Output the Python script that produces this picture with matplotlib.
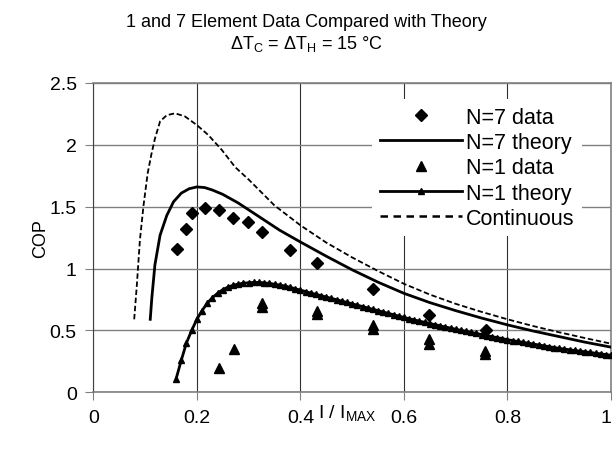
import matplotlib.pyplot as plt
from matplotlib.lines import Line2D

plt.rcParams['font.family'] = ['Liberation Sans', 'DejaVu Sans']
plt.rcParams['mathtext.fontset'] = 'custom'
plt.rcParams['mathtext.rm'] = 'Liberation Sans'
plt.rcParams['mathtext.it'] = 'Liberation Sans:italic'
plt.rcParams['mathtext.default'] = 'regular'

# measured points, N=7 array
n7_x = [0.161, 0.179, 0.190, 0.215, 0.242, 0.270, 0.298, 0.325, 0.379, 0.432, 0.541, 0.649, 0.758]
n7_y = [1.156, 1.323, 1.447, 1.491, 1.472, 1.410, 1.374, 1.297, 1.147, 1.046, 0.831, 0.628, 0.506]

# measured points, single element
n1_x = [0.243, 0.272, 0.325, 0.325, 0.432, 0.432, 0.541, 0.541, 0.649, 0.649, 0.757, 0.757]
n1_y = [0.20, 0.35, 0.72, 0.69, 0.66, 0.63, 0.54, 0.51, 0.43, 0.39, 0.33, 0.31]

# theory, N=7
n7t_x = [0.110, 0.113, 0.119, 0.129, 0.142, 0.155, 0.170, 0.185, 0.200, 0.215, 0.230, 0.250,
         0.280, 0.320, 0.360, 0.400, 0.450, 0.500, 0.550, 0.600, 0.650, 0.700, 0.750, 0.800,
         0.850, 0.900, 0.950, 1.000]
n7t_y = [0.59, 0.76, 1.03, 1.27, 1.43, 1.54, 1.61, 1.645, 1.66, 1.655, 1.635, 1.60,
         1.53, 1.42, 1.31, 1.215, 1.10, 0.99, 0.89, 0.80, 0.725, 0.66, 0.60, 0.545,
         0.495, 0.45, 0.405, 0.365]

# theory, N=1 (one value every 0.01 from 0.16 to 1.00)
n1t_x = [round(0.16 + 0.01 * i, 2) for i in range(85)]
n1t_y = [0.11, 0.26, 0.40, 0.50, 0.59, 0.66, 0.72, 0.765, 0.80, 0.83,
         0.85, 0.865, 0.875, 0.882, 0.886, 0.888, 0.888, 0.885, 0.880, 0.874,
         0.867, 0.859, 0.849, 0.837, 0.826, 0.814, 0.803, 0.792, 0.781, 0.770,
         0.759, 0.748, 0.737, 0.726, 0.715, 0.704, 0.693, 0.682, 0.671, 0.660,
         0.649, 0.638, 0.627, 0.616, 0.605, 0.595, 0.585, 0.575, 0.566, 0.556,
         0.547, 0.537, 0.528, 0.519, 0.510, 0.501, 0.493, 0.484, 0.476, 0.467,
         0.459, 0.450, 0.442, 0.434, 0.425, 0.418, 0.411, 0.404, 0.397, 0.390,
         0.383, 0.376, 0.369, 0.362, 0.355, 0.349, 0.344, 0.338, 0.333, 0.327,
         0.322, 0.316, 0.311, 0.305, 0.300]

# continuous model
cont_x = [0.079, 0.084, 0.090, 0.097, 0.105, 0.112, 0.119, 0.129, 0.142, 0.158, 0.177, 0.200,
          0.222, 0.248, 0.274, 0.300, 0.350, 0.400, 0.450, 0.500, 0.550, 0.600, 0.650, 0.700,
          0.750, 0.800, 0.850, 0.900, 0.950, 1.000]
cont_y = [0.59, 0.86, 1.23, 1.51, 1.77, 1.92, 2.05, 2.19, 2.24, 2.255, 2.23, 2.16,
          2.08, 1.96, 1.82, 1.72, 1.51, 1.35, 1.21, 1.09, 0.98, 0.877, 0.79, 0.715,
          0.65, 0.59, 0.535, 0.485, 0.438, 0.393]

fig = plt.figure(figsize=(6.13, 4.6), dpi=100)
ax = fig.add_axes([0.1522, 0.145, 0.8446, 0.6724])

ax.plot(n7_x, n7_y, linestyle='none', marker='D', ms=6.5, color='black',
        label='N=7 data', zorder=5)
ax.plot(n7t_x, n7t_y, color='black', lw=2, label='N=7 theory', zorder=3)
ax.plot(n1_x, n1_y, linestyle='none', marker='^', ms=7.5, color='black',
        label='N=1 data', zorder=5)
ax.plot(n1t_x, n1t_y, color='black', lw=2, marker='^', ms=4.5, label='N=1 theory', zorder=3)
ax.plot(cont_x, cont_y, color='black', lw=1.3, dashes=(3, 1.5), label='Continuous', zorder=3)

ax.set_xlim(0, 1)
ax.set_ylim(0, 2.5)
ax.set_xticks([0, 0.2, 0.4, 0.6, 0.8, 1])
ax.set_xticklabels(['0', '0.2', '0.4', '0.6', '0.8', '1'])
ax.set_yticks([0, 0.5, 1, 1.5, 2, 2.5])
ax.set_yticklabels(['0', '0.5', '1', '1.5', '2', '2.5'])
ax.tick_params(labelsize=14, length=6, color='#808080', direction='out', pad=6)
ax.get_xticklabels()[-1].set_horizontalalignment('right')

ax.yaxis.grid(True, color='#808080', lw=1)
ax.xaxis.grid(True, color='#303030', lw=0.8)
ax.set_axisbelow(True)
for side in ['top', 'right', 'bottom']:
    ax.spines[side].set_color('#808080')
    ax.spines[side].set_linewidth(1.2)
ax.spines['left'].set_color('#404040')

ax.set_xlabel('I / I$_{MAX}$', fontsize=14)
ax.xaxis.set_label_coords(0.49, -0.03)
ax.set_ylabel('COP', fontsize=13)
ax.yaxis.set_label_coords(-0.085, 0.5)

# legend shows the longer Excel-style dash for the continuous curve
handles, labels = ax.get_legend_handles_labels()
handles[-1] = Line2D([], [], color='black', lw=1.8, dashes=(3, 2.2))
leg = ax.legend(handles, labels, loc='upper right', bbox_to_anchor=(0.944, 0.948),
                fontsize=15.5, frameon=True, fancybox=False, edgecolor='none',
                facecolor='white', framealpha=1, borderaxespad=0, borderpad=0.35,
                labelspacing=0.2, handlelength=3.8, handletextpad=0.2, numpoints=1)

fig.text(0.5, 1 - 26.7 / 460, '1 and 7 Element Data Compared with Theory',
         ha='center', va='baseline', fontsize=13)
fig.text(0.5, 1 - 49.5 / 460, 'ΔT$_{C}$ = ΔT$_{H}$ = 15 °C',
         ha='center', va='baseline', fontsize=13)

fig.savefig('out.png', dpi=100)
